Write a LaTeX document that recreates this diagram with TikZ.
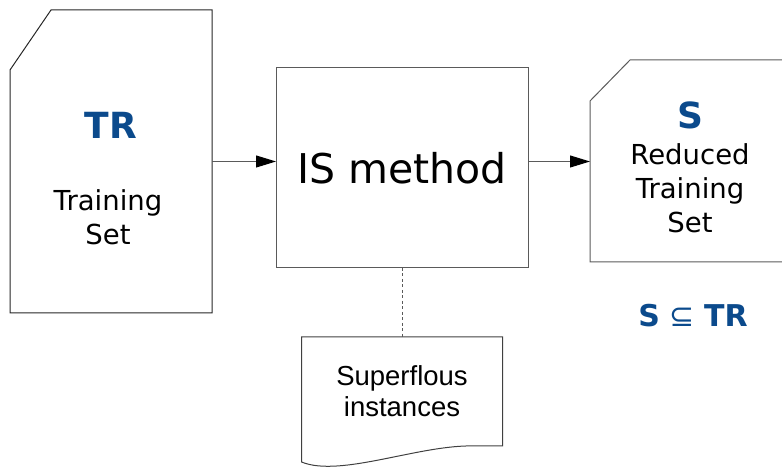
\documentclass[tikz,border=0pt]{standalone}
\usepackage{fontspec}
\setmainfont{DejaVu Sans}
\newfontfamily\docfont{Liberation Sans}
\usepackage{tikz}
\usetikzlibrary{arrows.meta, positioning}
\definecolor{setblue}{HTML}{0B4A8C}
\definecolor{edge}{HTML}{5A5A5A}
\tikzset{
  card/.style={rectangle, draw=none, outer sep=0pt, inner sep=0pt},
  method/.style={rectangle, draw=edge, line width=1pt, outer sep=0pt, minimum width=252pt, minimum height=200pt, font=\fontsize{41}{48}\selectfont},
  setname/.style={inner sep=0pt, text=setblue, font=\fontsize{36}{40}\selectfont\bfseries},
  settext/.style={inner sep=0pt, align=center, font=\fontsize{27.5}{34}\selectfont},
  doctext/.style={align=center, font=\docfont\fontsize{27.5}{31}\selectfont},
  outline/.style={line width=1pt, line join=miter},
  arr/.style={-{Triangle[length=20pt, width=12pt, color=black]}, line width=1pt, edge},
  link/.style={line width=0.9pt, edge, dash pattern=on 3pt off 2.5pt},
}
\begin{document}
\begin{tikzpicture}[x=1pt, y=1pt]
\useasboundingbox (0,0) rectangle (782,470);
\clip (0,0) rectangle (782,470);
% training set, the method and the reduced set
\node[card, minimum width=202pt, minimum height=303pt] (tr) at (111,308.5) {};
\node[method, right=64pt of tr, yshift=-6.5pt] (is) {IS method};
\node[card, minimum width=220pt, minimum height=202pt, right=62pt of is, yshift=7pt] (s) {};
\node[card, minimum width=201pt, minimum height=109pt, below=69pt of is] (sup) {};
% card outlines with the cut corner
\draw[outline, black!85] (tr.south west) -- ([yshift=-60pt]tr.north west) -- ([xshift=41pt]tr.north west) -- (tr.north east) -- (tr.south east) -- cycle;
\draw[outline, edge] (s.south west) -- ([yshift=-41pt]s.north west) -- ([xshift=40pt]s.north west) -- (s.north east) -- (s.south east) -- cycle;
% document shape with the wavy bottom
\draw[outline, black!75] (sup.south east) -- (sup.north east) -- (sup.north west) -- ([yshift=-16pt]sup.south west)
  .. controls ([shift={(39pt,-32pt)}]sup.south west) and ([shift={(-82pt,2pt)}]sup.south east) .. ([xshift=-27pt]sup.south east) -- cycle;
% texts
\node[setname] (trname) at ([yshift=36.5pt]tr.center) {TR};
\node[settext] (trtext) at ([shift={(-3pt,-55.5pt)}]tr.center) {Training\\Set};
\node[setname] (sname) at ([shift={(-10pt,46pt)}]s.center) {S};
\node[settext] (stext) at ([shift={(-10pt,-27pt)}]s.center) {Reduced\\Training\\Set};
\node[inner sep=0pt, text=setblue, font=\fontsize{30}{34}\selectfont, below=42pt of s, xshift=-7pt] (subset) {\textbf{S} ⊆ \textbf{TR}};
\node[doctext] (suptext) at (sup.center) {Superflous\\instances};
% connectors
\draw[arr] (tr.east) -- (tr.east -| is.west);
\draw[arr] (is.east |- tr.east) -- (s.west |- tr.east);
\draw[link] (is.south) -- (sup.north);
\end{tikzpicture}
\end{document}
